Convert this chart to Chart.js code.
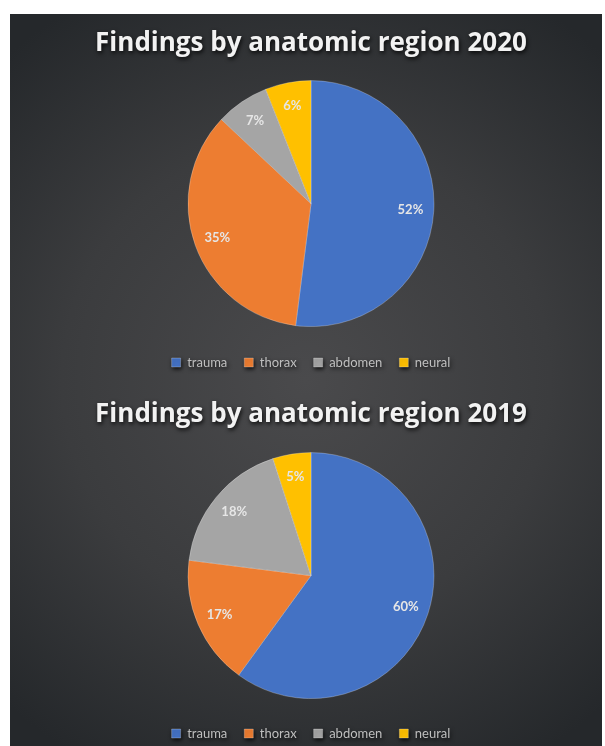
<!DOCTYPE html>
<html>
<head>
<meta charset="utf-8">
<script src="https://cdn.jsdelivr.net/npm/chart.js@4"></script>
<style>
    html, body { margin: 0; padding: 0; background: #fff; overflow: hidden; }
    #panel {
        position: absolute; left: 10px; top: 14px; width: 592px; height: 732px; overflow: hidden;
        background: radial-gradient(ellipse 75% 60% at 50% 50%, #4a4a4c 0%, #3b3c3e 55%, #25282b 100%);
    }
    .wrap { position: absolute; left: 0; width: 592px; }
    #w1 { top: 0; height: 372px; }
    #w2 { top: 372px; height: 364px; }
</style>
</head>
<body>
<div id="panel">
    <div class="wrap" id="w1"><canvas id="pie2020"></canvas></div>
    <div class="wrap" id="w2"><canvas id="pie2019"></canvas></div>
</div>
<script>
const regions = ["trauma", "thorax", "abdomen", "neural"];
const values2020 = [52, 35, 7, 6];
const values2019 = [60, 17, 18, 5];
const regionColors = ["#4472C4", "#ED7D31", "#A5A5A5", "#FFC000"];

// percent labels inside the slices
const sliceLabels = {
    id: "sliceLabels",
    afterDatasetsDraw(chart) {
        const ctx = chart.ctx;
        const data = chart.data.datasets[0].data;
        chart.getDatasetMeta(0).data.forEach((arc, i) => {
            const p = arc.getProps(["x", "y", "startAngle", "endAngle", "outerRadius"], true);
            const mid = (p.startAngle + p.endAngle) / 2;
            const r = p.outerRadius * 0.81;
            ctx.save();
            ctx.font = "bold 13px Lato";
            ctx.fillStyle = "#e6e6e6";
            ctx.textAlign = "center";
            ctx.textBaseline = "middle";
            ctx.fillText(data[i] + "%", p.x + Math.cos(mid) * r, p.y + Math.sin(mid) * r);
            ctx.restore();
        });
    }
};

// soft dark shadow behind the title, like the original
const titleShadow = {
    id: "titleShadow",
    beforeDraw(chart) {
        chart.ctx.save();
        chart.ctx.shadowColor = "rgba(0,0,0,0.85)";
        chart.ctx.shadowBlur = 4;
        chart.ctx.shadowOffsetX = 1;
        chart.ctx.shadowOffsetY = 2;
    },
    beforeDatasetsDraw(chart) {
        chart.ctx.restore();
    }
};

function makePie(id, title, values, pad) {
    const ctx = document.getElementById(id).getContext("2d");
    return new Chart(ctx, {
        type: "pie",
        data: {
            labels: regions,
            datasets: [{
                data: values,
                backgroundColor: regionColors,
                borderColor: "rgba(255,255,255,0.25)",
                borderWidth: 1
            }]
        },
        options: {
            responsive: true,
            maintainAspectRatio: false,
            animation: false,
            radius: 123,
            layout: { padding: { left: 10, right: 0, top: 0, bottom: pad.bottom } },
            plugins: {
                title: {
                    display: true,
                    text: title,
                    color: "#f2f2f2",
                    font: { family: "Open Sans", size: 26, weight: "bold" },
                    padding: { top: pad.titleTop, bottom: pad.titleBottom }
                },
                legend: {
                    position: "bottom",
                    labels: {
                        color: "#bfbfbf",
                        font: { family: "Lato", size: 13 },
                        boxWidth: 9,
                        boxHeight: 9,
                        padding: 17
                    }
                },
                tooltip: { enabled: false }
            }
        },
        plugins: [titleShadow, sliceLabels]
    });
}

makePie("pie2020", "Findings by anatomic region 2020", values2020, { titleTop: 14, titleBottom: 9, bottom: 7 });
makePie("pie2019", "Findings by anatomic region 2019", values2019, { titleTop: 13, titleBottom: 11, bottom: 0 });
</script>
</body>
</html>
